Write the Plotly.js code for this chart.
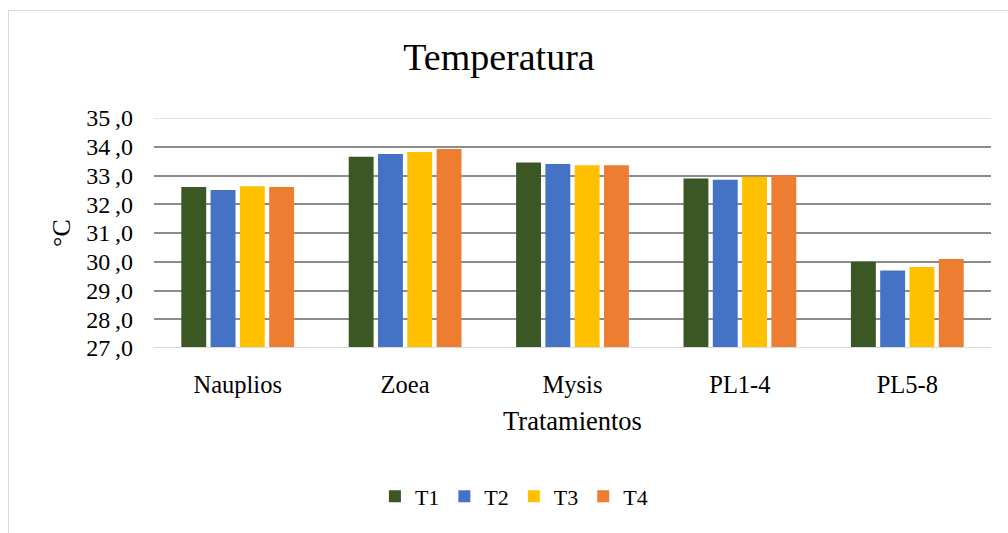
<!DOCTYPE html>
<html>
<head>
<meta charset="utf-8">
<script src="https://cdn.plot.ly/plotly-3.0.1.min.js"></script>
<style>
  html, body { margin: 0; padding: 0; background: #fff; }
  #chart { width: 1008px; height: 533px; }
  #frame { position: absolute; left: 8px; top: 10px; width: 1100px; height: 600px;
           border-left: 1px solid #d9d9d9; border-top: 1px solid #d9d9d9; pointer-events: none; }
</style>
</head>
<body>
<div id="chart"></div>
<div id="frame"></div>
<script>
const categories = ["Nauplios", "Zoea", "Mysis", "PL1-4", "PL5-8"];
const seriesNames = ["T1", "T2", "T3", "T4"];
const T1 = [32.6, 33.65, 33.45, 32.9, 30.0];
const T2 = [32.5, 33.75, 33.4, 32.85, 29.7];
const T3 = [32.63, 33.82, 33.36, 32.96, 29.82];
const T4 = [32.6, 33.92, 33.36, 33.01, 30.1];
const colors = ["#3a5724", "#4472c4", "#ffc000", "#ed7d31"];
const yTicks = [27, 28, 29, 30, 31, 32, 33, 34, 35];
const yTickText = yTicks.map(v => v.toFixed(1).replace(".", "\u2009,"));

const values = [T1, T2, T3, T4];
const serif = "Liberation Serif, Times New Roman, serif";

const traces = values.map((v, i) => ({
  type: "bar",
  name: seriesNames[i],
  x: categories,
  y: v,
  base: 0,
  marker: { color: colors[i] },
  hoverinfo: "x+y+name"
}));

const layout = {
  width: 1008,
  height: 533,
  margin: { l: 154, r: 17, t: 118, b: 185 },
  paper_bgcolor: "#ffffff",
  plot_bgcolor: "#ffffff",
  barmode: "group",
  bargap: 0.30,
  bargroupgap: 0.15,
  title: {
    text: "Temperatura",
    font: { family: serif, size: 38, color: "#000" },
    x: 0.495, xanchor: "center",
    y: 0.893, yanchor: "middle"
  },
  font: { family: serif, color: "#000" },
  xaxis: {
    type: "category",
    showgrid: false,
    showline: false,
    zeroline: false,
    ticks: "",
    ticklabelstandoff: 19,
    tickfont: { family: serif, size: 24.5, color: "#000" },
    title: { text: "Tratamientos", font: { family: serif, size: 26.5, color: "#000" }, standoff: 14 }
  },
  yaxis: {
    range: [27, 35],
    tickvals: yTicks,
    ticktext: yTickText,
    showgrid: true,
    gridcolor: "#8c8c8c",
    gridwidth: 2,
    zeroline: false,
    showline: false,
    ticks: "",
    ticklabelstandoff: 20,
    tickfont: { family: serif, size: 24, color: "#000" },
    title: { text: "°C", font: { family: serif, size: 26, color: "#000" }, standoff: 8 }
  },
  shapes: [
    { type: "line", xref: "paper", x0: 0, x1: 1, yref: "y", y0: 35, y1: 35,
      line: { color: "#e0e0e0", width: 2 }, layer: "above" },
    { type: "line", xref: "paper", x0: 0, x1: 1, yref: "y", y0: 27, y1: 27,
      line: { color: "#d9d9d9", width: 2 }, layer: "above" }
  ],
  showlegend: true,
  legend: {
    orientation: "h",
    x: 0.43, xanchor: "center",
    y: -0.645, yanchor: "middle",
    font: { family: serif, size: 22, color: "#000" },
    itemwidth: 30,
    traceorder: "normal"
  }
};

Plotly.newPlot("chart", traces, layout, { displayModeBar: false, staticPlot: true });
</script>
</body>
</html>
